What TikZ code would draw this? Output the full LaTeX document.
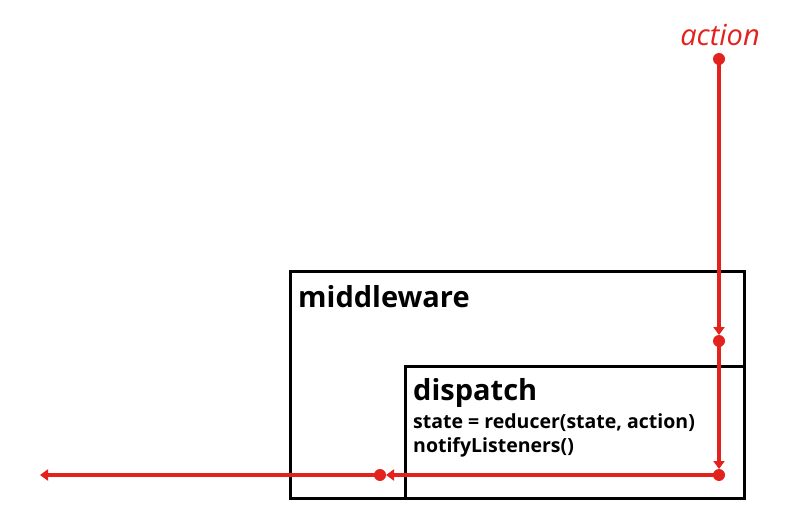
\documentclass[tikz,border=0pt]{standalone}
\usepackage{fontspec}
\setmainfont{Open Sans}
\usetikzlibrary{arrows.meta,positioning}
\definecolor{flowred}{RGB}{227,34,30}
\tikzset{
  box/.style={draw=black,line width=2.8pt,rectangle,inner sep=0pt,anchor=north west},
  flow/.style={draw=flowred,line width=3.4pt,-{Triangle[length=8pt,width=11pt]},shorten >=6pt},
  dot/.style={fill=flowred},
  title/.style={anchor=base west,inner sep=0pt,font=\bfseries\fontsize{29}{34}\selectfont},
  code/.style={anchor=base west,inner sep=0pt,font=\bfseries\fontsize{19.5}{23}\selectfont}
}
\begin{document}
\begin{tikzpicture}[x=1pt,y=-1pt]
\useasboundingbox (0,0) rectangle (807,532);
% boxes
\node[box,minimum width=454pt,minimum height=227pt] (mw) at (289,270) {};
\node[box,minimum width=339pt,minimum height=132pt] (dp) at (404,365) {};
\node[title] (mwtext) at (298,307) {middleware};
\node[title] (dptext) at (413,400) {dispatch};
\node[code] (reduce) at (413,428) {state = reducer(state, action)};
\node[code] (notify) at (413,452) {notifyListeners()};
% flow
\coordinate (act) at (719,59);
\coordinate (m) at (719,341);
\coordinate (d) at (719,475);
\coordinate (l) at (380,475);
\coordinate (out) at (40,475);
\node[anchor=base,inner sep=0pt,text=flowred,font=\itshape\fontsize{29}{34}\selectfont] (acttext) at (720,46) {action};
\draw[flow] (act) -- (m);
\draw[flow] (m) -- (d);
\draw[flow] (d) -- (l);
\draw[flow,shorten >=0pt] (l) -- (out);
\foreach \p in {act,m,d,l}
  \fill[dot] (\p) circle (6pt);
\end{tikzpicture}
\end{document}
